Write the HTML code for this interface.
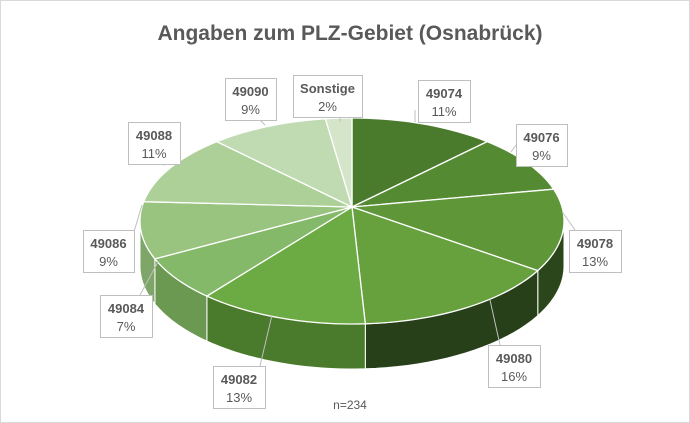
<!DOCTYPE html>
<html><head><meta charset="utf-8"><style>
body{margin:0;background:#fff;}
svg{display:block;font-family:"Liberation Sans",Arial,sans-serif;}
</style></head><body>
<svg id="s" width="690" height="423" viewBox="0 0 690 423" xmlns="http://www.w3.org/2000/svg">
<rect x="0.5" y="0.5" width="689" height="422" fill="#fff" stroke="#d9d9d9"/>
<text x="350" y="40" text-anchor="middle" font-size="21" font-weight="bold" fill="#595959">Angaben zum PLZ-Gebiet (Osnabrück)</text>
<g id="walls"></g><g id="tops"></g><g id="lab"></g>
<text x="350" y="409" text-anchor="middle" font-size="12" fill="#595959">n=234</text>
</svg>
<script>
(function(){
var cx=352,cy=221,rx=212,ry=103,ax=352,ay=207,D=45;
var pct=[11,9,13,16,13,7,9,11,9,2];
var topc=["#4a7a2b","#548a31","#5e9638","#66a13e","#6cab43","#85b96a","#98c47f","#acd097","#c0dab1","#d4e5ca"];
var wallc=["#2e4c1b","#34551e","#2b461a","#27401a","#4a7a2b","#6b9952","#7ea668","#90b57c","#a3c393","#b5cfa8"];
function P(t,d){return [cx+rx*Math.sin(t),cy-ry*Math.cos(t)+(d||0)];}
var W="",T="",a=0;
for(var i=0;i<10;i++){
 var b=a+pct[i]/100*2*Math.PI;
 var s=Math.max(a,Math.PI/2),e=Math.min(b,3*Math.PI/2);
 if(e>s){var n=20,pts=[];for(var k=0;k<=n;k++)pts.push(P(s+(e-s)*k/n));
  var bp=[];for(var k=n;k>=0;k--){bp.push(P(s+(e-s)*k/n,D));}
  W+='<path d="M'+pts.map(function(p){return p.join(',')}).join('L')+'L'+bp.map(function(p){return p.join(',')}).join('L')+'Z" fill="'+wallc[i]+'" stroke="#fff" stroke-width="1"/>';}
 var n2=30,pts2=[];for(var k=0;k<=n2;k++)pts2.push(P(a+(b-a)*k/n2));
 T+='<path d="M'+ax+','+ay+'L'+pts2.map(function(p){return p.join(',')}).join('L')+'Z" fill="'+topc[i]+'" stroke="#fff" stroke-width="1.3"/>';
 a=b;}
document.getElementById('walls').innerHTML=W;document.getElementById('tops').innerHTML=T;
var L=[["49074","11%",418,80,52,42,[415,122],[415,110]],["49076","9%",516,124,51,42,[511,152],[516,145]],["49078","13%",569,230,52,42,[563,213],[575,230]],
["49080","16%",488,345,52,42,[490,300],[500,345]],["49082","13%",213,366,52,42,[272,315],[260,366]],["49084","7%",100,295,52,42,[158,262],[140,295]],
["49086","9%",83,230,51,42,[142,205],[133,235]],["49088","11%",128,122,52,42,[165,165],[160,164]],["49090","9%",225,78,51,42,[265,125],[260,120]],["Sonstige","2%",293,75,69,42,[340,122],[340,117]]];
var H="";L.forEach(function(l){
 H+='<polyline points="'+l[6].join(',')+' '+l[7].join(',')+'" fill="none" stroke="#bfbfbf"/>';
 H+='<rect x="'+(l[2]+.5)+'" y="'+(l[3]+.5)+'" width="'+l[4]+'" height="'+l[5]+'" fill="#fff" stroke="#bfbfbf"/>';
 var mx=l[2]+l[4]/2;
 H+='<text x="'+mx+'" y="'+(l[3]+18)+'" text-anchor="middle" font-size="13" font-weight="bold" fill="#595959">'+l[0]+'</text>';
 H+='<text x="'+mx+'" y="'+(l[3]+36)+'" text-anchor="middle" font-size="13" fill="#595959">'+l[1]+'</text>';});
document.getElementById('lab').innerHTML=H;
})();
</script>
</body></html>
